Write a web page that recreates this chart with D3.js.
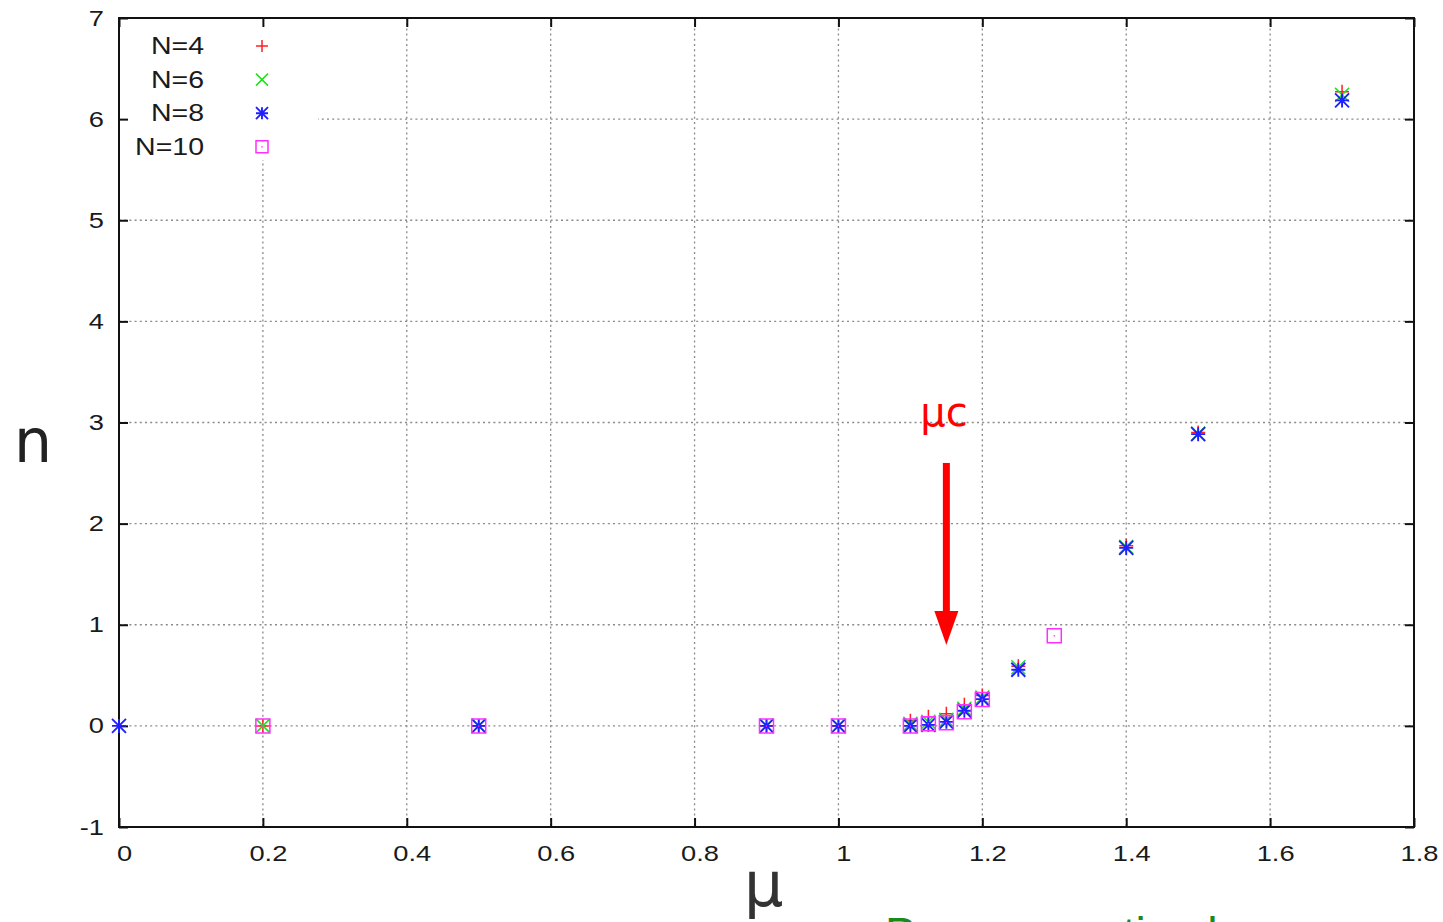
<!DOCTYPE html>
<html>
<head>
<meta charset="utf-8">
<script src="https://cdn.jsdelivr.net/npm/d3@7"></script>
<style>
  html, body { margin: 0; padding: 0; background: #fff; }
  svg { display: block; }
</style>
</head>
<body>
<svg id="chart" width="1443" height="922"></svg>
<script>
// Particle density n versus chemical potential mu for several system sizes N
const xTicks = [0, 0.2, 0.4, 0.6, 0.8, 1, 1.2, 1.4, 1.6, 1.8];
const yTicks = [-1, 0, 1, 2, 3, 4, 5, 6, 7];
const seriesNames = ["N=4", "N=6", "N=8", "N=10"];

const muN4  = [0.2, 0.5, 0.9, 1.0, 1.1, 1.125, 1.15, 1.175, 1.2, 1.25, 1.4, 1.5, 1.7];
const nN4   = [0.0, 0.0, 0.0, 0.0, 0.05, 0.09, 0.12, 0.21, 0.30, 0.59, 1.78, 2.90, 6.27];
const muN6  = [0.2, 0.5, 0.9, 1.0, 1.1, 1.125, 1.15, 1.175, 1.2, 1.25, 1.4, 1.5, 1.7];
const nN6   = [0.0, 0.0, 0.0, 0.0, 0.02, 0.04, 0.06, 0.17, 0.28, 0.58, 1.77, 2.89, 6.24];
const muN8  = [0.0, 0.5, 0.9, 1.0, 1.1, 1.125, 1.15, 1.175, 1.2, 1.25, 1.4, 1.5, 1.7];
const nN8   = [0.0, 0.0, 0.0, 0.0, 0.0, 0.01, 0.04, 0.15, 0.265, 0.555, 1.76, 2.885, 6.185];
const muN10 = [0.2, 0.5, 0.9, 1.0, 1.1, 1.125, 1.15, 1.175, 1.2, 1.3];
const nN10  = [0.0, 0.0, 0.0, 0.0, 0.0, 0.02, 0.03, 0.14, 0.26, 0.89];

const muCritical = 1.15;   // arrow marking the critical chemical potential
const arrowTop = 2.6, arrowBottom = 0.8;

const series = [
  { name: seriesNames[0], mu: muN4,  n: nN4,  color: "#ff2020", shape: "plus" },
  { name: seriesNames[1], mu: muN6,  n: nN6,  color: "#20e020", shape: "cross" },
  { name: seriesNames[2], mu: muN8,  n: nN8,  color: "#2020ff", shape: "star" },
  { name: seriesNames[3], mu: muN10, n: nN10, color: "#ff30ff", shape: "square" }
];

const svg = d3.select("#chart");
const plotL = 119, plotR = 1414, plotT = 18, plotB = 827;
const x = d3.scaleLinear().domain([0, 1.8]).range([plotL, plotR]);
const y = d3.scaleLinear().domain([-1, 7]).range([plotB, plotT]);
const stretch = 1.24;   // labels are set in a horizontally widened face

// dotted grid
const grid = svg.append("g").attr("stroke", "#8a8a8a").attr("stroke-width", 1.3)
  .attr("stroke-dasharray", "2,3.2");
grid.selectAll("line.vx").data(xTicks.slice(1, -1)).join("line")
  .attr("x1", d => x(d)).attr("x2", d => x(d)).attr("y1", plotT).attr("y2", plotB);
grid.selectAll("line.hy").data(yTicks.slice(1, -1)).join("line")
  .attr("x1", plotL).attr("x2", plotR).attr("y1", d => y(d)).attr("y2", d => y(d));

// legend background hides the grid behind the key
svg.append("rect").attr("x", plotL + 1).attr("y", plotT + 1)
  .attr("width", 198).attr("height", 141).attr("fill", "#fff");

// axes with inward ticks on all four sides
const tickLen = 9;
const fmt = d => String(d);
const fontFam = "Liberation Sans, Arial, sans-serif";
const bottomAxis = svg.append("g").attr("transform", `translate(0,${plotB})`)
  .call(d3.axisBottom(x).tickValues(xTicks).tickSize(-tickLen).tickPadding(18).tickFormat(fmt));
svg.append("g").attr("transform", `translate(0,${plotT})`)
  .call(d3.axisTop(x).tickValues(xTicks).tickSize(-tickLen).tickFormat(""));
const leftAxis = svg.append("g").attr("transform", `translate(${plotL},0)`)
  .call(d3.axisLeft(y).tickValues(yTicks).tickSize(-tickLen).tickPadding(16).tickFormat(fmt));
svg.append("g").attr("transform", `translate(${plotR},0)`)
  .call(d3.axisRight(y).tickValues(yTicks).tickSize(-tickLen).tickFormat(""));
svg.selectAll(".domain").remove();
svg.selectAll(".tick line").attr("stroke", "#111").attr("stroke-width", 2);
svg.selectAll(".tick text").attr("font-family", fontFam)
  .attr("font-size", 22).attr("fill", "#1a1a1a");
bottomAxis.selectAll(".tick text")
  .attr("x", 5 / stretch).attr("transform", `scale(${stretch},1)`);
leftAxis.selectAll(".tick text")
  .attr("x", -15 / stretch).attr("transform", `scale(${stretch},1)`);

svg.append("rect").attr("x", plotL).attr("y", plotT).attr("width", plotR - plotL)
  .attr("height", plotB - plotT).attr("fill", "none").attr("stroke", "#111").attr("stroke-width", 2);

// point markers
function drawMarker(g, shape, cx, cy, color, s) {
  const path = d3.path();
  if (shape === "plus" || shape === "star") {
    path.moveTo(cx - s, cy); path.lineTo(cx + s, cy);
    path.moveTo(cx, cy - s); path.lineTo(cx, cy + s);
  }
  if (shape === "cross" || shape === "star") {
    path.moveTo(cx - s, cy - s); path.lineTo(cx + s, cy + s);
    path.moveTo(cx - s, cy + s); path.lineTo(cx + s, cy - s);
  }
  if (shape === "square") {
    path.rect(cx - s, cy - s, 2 * s, 2 * s);
    path.moveTo(cx - 0.6, cy); path.lineTo(cx + 0.6, cy);
  }
  g.append("path").attr("d", path.toString()).attr("fill", "none")
    .attr("stroke", color).attr("stroke-width", shape === "star" ? 1.9 : 1.5);
}

const pts = svg.append("g");
series.forEach(s => {
  const g = pts.append("g");
  s.mu.forEach((m, i) => drawMarker(g, s.shape, x(m), y(s.n[i]), s.color, 7));
});

// legend
const legend = svg.append("g");
series.forEach((s, i) => {
  const ly = 46 + i * 33.6;
  legend.append("text").attr("x", 204 / stretch).attr("y", ly + 8)
    .attr("transform", `scale(${stretch},1)`).attr("text-anchor", "end")
    .attr("font-family", fontFam).attr("font-size", 23)
    .attr("fill", "#1a1a1a").text(s.name);
  drawMarker(legend, s.shape, 262, ly, s.color, 6);
});

// critical point annotation
const ax = x(muCritical);
svg.append("rect").attr("x", ax - 3.5).attr("y", y(arrowTop)).attr("width", 7)
  .attr("height", y(arrowBottom) - y(arrowTop) - 30).attr("fill", "#ff0000");
svg.append("path")
  .attr("d", `M${ax - 12},${y(arrowBottom) - 34} L${ax + 12},${y(arrowBottom) - 34} L${ax},${y(arrowBottom)} Z`)
  .attr("fill", "#ff0000");
svg.append("text").attr("x", ax - 26).attr("y", 426)
  .attr("font-family", "DejaVu Sans, sans-serif").attr("font-size", 40)
  .attr("fill", "#ff0000").text("μc");

// axis titles
svg.append("text").attr("x", 14).attr("y", 462)
  .attr("font-family", "DejaVu Sans, sans-serif").attr("font-size", 60)
  .attr("fill", "#222").text("n");
svg.append("text").attr("x", 744).attr("y", 906)
  .attr("font-family", "DejaVu Sans, sans-serif").attr("font-size", 62)
  .attr("fill", "#333").text("μ");

// caption running off the bottom edge
svg.append("text").attr("x", 885).attr("y", 950)
  .attr("font-family", fontFam).attr("font-size", 46)
  .attr("fill", "#1a8a1a").text("Paramagnetic phase");
</script>
</body>
</html>
